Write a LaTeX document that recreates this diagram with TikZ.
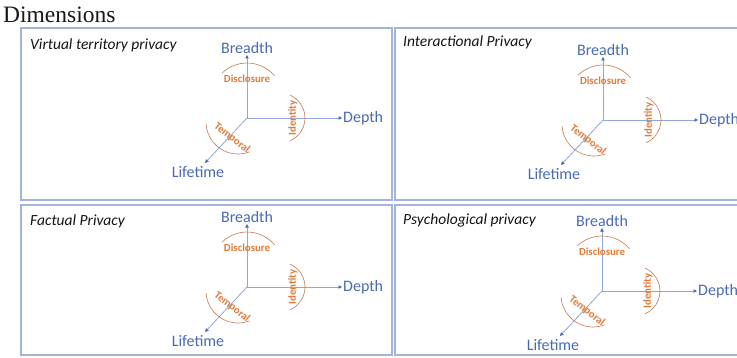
\documentclass[tikz,border=0pt]{standalone}
\usepackage{fontspec}
\setmainfont{Carlito}
\newfontfamily\timesf{Liberation Serif}
\usetikzlibrary{arrows.meta}
\definecolor{axblue}{HTML}{8FA8D8}
\definecolor{txtblue}{HTML}{4A6AB2}
\definecolor{orng}{HTML}{E27B3A}
\definecolor{arcc}{HTML}{C27A55}
\definecolor{framec}{HTML}{A3B3DA}
\tikzset{
 panel/.style={draw=framec, line width=1.3pt},
 ptitle/.style={font=\fontsize{15.5}{18}\selectfont\itshape, text=black!92, anchor=base west, inner sep=0pt},
 lab/.style={font=\fontsize{16}{19}\selectfont, text=txtblue, inner sep=0pt},
 olab/.style={font=\fontsize{10.8}{12}\selectfont\bfseries, text=orng, inner sep=0pt},
 axisline/.style={draw=axblue, line width=0.8pt, -{Triangle[length=3.5pt,width=3.5pt,color=txtblue]}},
 arcl/.style={draw=arcc, line width=0.6pt},
}
\newcommand{\dimaxes}[3]{%
\begin{scope}[shift={(#2,#3)}]
\coordinate (#1o) at (0,0);
\node[lab] (#1b) at (0,70) {Breadth};
\coordinate (#1bt) at (0,63);
\node[lab, anchor=west] (#1d) at (96,0) {Depth};
\coordinate (#1dt) at (95,0);
\node[lab] (#1l) at (-49,-54) {Lifetime};
\coordinate (#1lt) at (-42,-45);
\draw[axisline] (#1o) -- (#1bt);
\draw[axisline] (#1o) -- (#1dt);
\draw[axisline] (#1o) -- (#1lt);
\draw[arcl] ([shift={(40:36)}]0,19) arc[start angle=40,end angle=134,radius=36];
\draw[arcl] ([shift={(-66:25)}]33,0) arc[start angle=-66,end angle=66,radius=25];
\draw[arcl] ([shift={(-176:32)}]-9,-4) arc[start angle=-176,end angle=-69,radius=32];
\node[olab] (#1dis) at (0,39) {Disclosure};
\node[olab, rotate=90] (#1id) at (46,0) {Identity};
\node[olab, rotate=-38] (#1tem) at (-15,-20) {Temporal};
\end{scope}}
\begin{document}
\begin{tikzpicture}[x=1pt,y=1pt]
\useasboundingbox (0,0) rectangle (737,357);
\clip (0,0) rectangle (737,357);
\fill[white] (0,0) rectangle (737,357);
\node[font=\timesf\fontsize{23.5}{26}\selectfont, anchor=base west, inner sep=0pt, text=black!90] (dim) at (3,334) {Dimensions};
\draw[panel] (21,157) rectangle (392,329);
\draw[panel] (395,157) rectangle (760,329);
\draw[panel] (21,2) rectangle (392,152);
\draw[panel] (395,2) rectangle (760,152);
\node[ptitle] (t1) at (30,307) {Virtual territory privacy};
\node[ptitle] (t2) at (403,310) {Interactional Privacy};
\node[ptitle] (t3) at (30,132) {Factual Privacy};
\node[ptitle] (t4) at (403,132.5) {Psychological privacy};
\dimaxes{a}{247}{239}
\dimaxes{b}{603}{237}
\dimaxes{c}{247}{70}
\dimaxes{d}{602}{66}
\end{tikzpicture}
\end{document}
